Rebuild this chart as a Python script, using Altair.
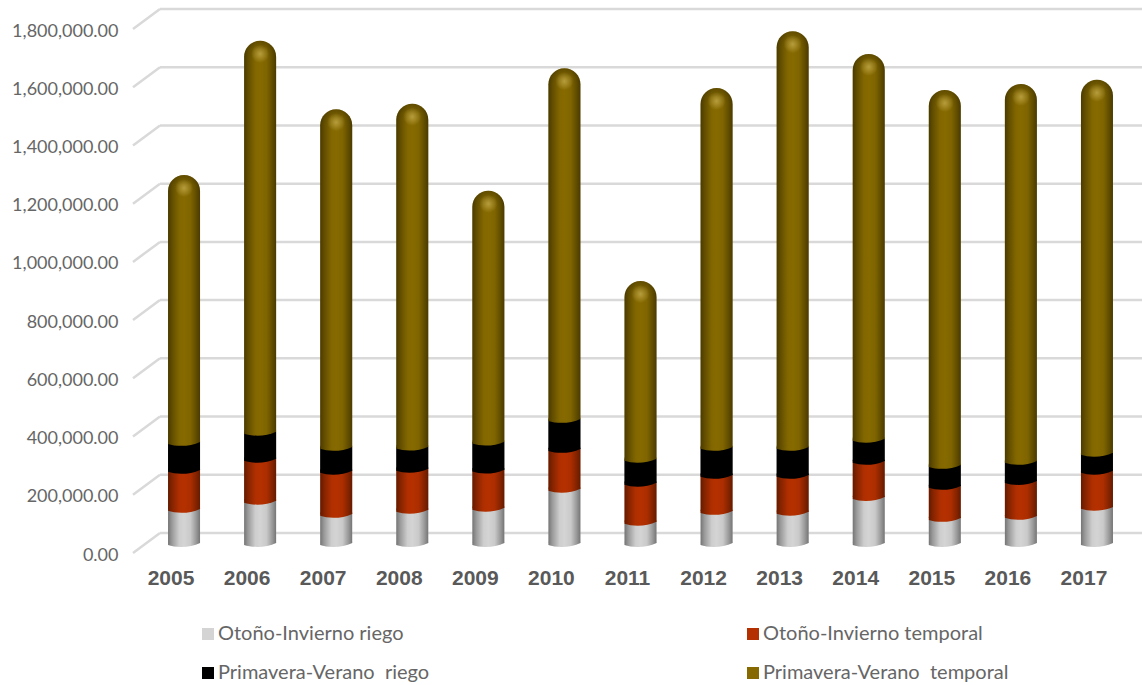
import altair as alt
import pandas as pd

years = ["2005", "2006", "2007", "2008", "2009", "2010", "2011", "2012", "2013", "2014", "2015", "2016", "2017"]
oi_riego = [117000, 145000, 100000, 114000, 121000, 186000, 73000, 110000, 107000, 158000, 86000, 93000, 124000]
oi_temporal = [134000, 144000, 148000, 141000, 131000, 137000, 134000, 124000, 127000, 124000, 110000, 120000, 124000]
pv_riego = [96000, 93000, 82000, 76000, 96000, 103000, 82000, 96000, 96000, 76000, 72000, 69000, 62000]
pv_temporal = [917000, 1343000, 1160000, 1178000, 862000, 1205000, 611000, 1233000, 1428000, 1322000, 1288000, 1295000, 1281000]

series_names = ["Otoño-Invierno riego", "Otoño-Invierno temporal", "Primavera-Verano\u00a0 riego", "Primavera-Verano\u00a0 temporal"]
series_values = [oi_riego, oi_temporal, pv_riego, pv_temporal]
series_colors = ["#d4d4d4", "#b53000", "#000000", "#866a00"]
grid_values = [0, 200000, 400000, 600000, 800000, 1000000, 1200000, 1400000, 1600000, 1800000]

TEXT = "#595959"
SOFT_TEXT = "#666666"
GRID = "#d9d9d9"
BAR_W = 32
SYMBOL = BAR_W ** 2

# Segment table with explicit start and end of every stacked piece
rows = []
for i, year in enumerate(years):
    base = 0
    for name, vals in zip(series_names, series_values):
        rows.append({"year": year, "series": name, "start": base, "end": base + vals[i]})
        base += vals[i]
segments = pd.DataFrame(rows)
totals = segments.groupby("year", as_index=False)["end"].max().rename(columns={"end": "total"})
grid = pd.DataFrame({"value": grid_values})

x = alt.X("year:N", title=None, scale=alt.Scale(paddingInner=0, paddingOuter=0),
          axis=alt.Axis(labelAngle=0, labelFont="Liberation Sans", labelFontSize=21, labelFontWeight="bold",
                        labelColor=TEXT, labelPadding=24, labelOffset=-13, domain=False, ticks=False, grid=False))
y_scale = alt.Scale(domain=[0, 1800000], nice=False)
y_axis = alt.Axis(format=",.2f", values=grid_values, labelFont="Lato", labelFontSize=18,
                  labelColor=SOFT_TEXT, labelPadding=28, labelOffset=12, domain=False, ticks=False, grid=False)
color_scale = alt.Scale(domain=series_names, range=series_colors)
color = alt.Color("series:N", scale=color_scale, sort=series_names, title=None,
                  legend=alt.Legend(orient="none", legendX=52, legendY=605, columns=2, direction="horizontal",
                                    columnPadding=279, rowPadding=19, symbolType="square", symbolSize=144,
                                    symbolStrokeWidth=0, labelFont="Lato", labelFontSize=20,
                                    labelColor=SOFT_TEXT, labelOffset=0, labelLimit=400, gridAlign="all"))
color_plain = alt.Color("series:N", scale=color_scale, sort=series_names, legend=None)

# Back wall lines and the slanted floor ticks that lead to the labels
back_lines = alt.Chart(grid).mark_rule(color=GRID, strokeWidth=2.5, yOffset=-10, y2Offset=-10).encode(
    x=alt.value(14), x2=alt.value(996),
    y=alt.Y("value:Q", scale=y_scale, axis=y_axis, title=None), y2="value:Q")
side_lines = alt.Chart(grid).mark_rule(color=GRID, strokeWidth=2.5, yOffset=10, y2Offset=-10).encode(
    x=alt.value(-13), x2=alt.value(14),
    y=alt.Y("value:Q", scale=y_scale), y2="value:Q")

lower = alt.Chart(segments).transform_filter(alt.datum.series != series_names[3]).mark_bar(width=BAR_W).encode(
    x=x, y=alt.Y("start:Q", scale=y_scale), y2="end:Q", color=color)
upper = alt.Chart(segments).transform_filter(alt.datum.series == series_names[3]).mark_bar(
    width=BAR_W, cornerRadiusTopLeft=16, cornerRadiusTopRight=16).encode(
    x=x, y=alt.Y("start:Q", scale=y_scale), y2="end:Q", color=color_plain)

# Curved lower edge of each ring of the cylinder; the ring version laps over its seam
BASE_EDGE = "M-1,0 L-1,0.12 C-0.5,0.3 0.4,0.3 1,0 Z"
RING_EDGE = "M-1,-0.08 L-1,0.12 C-0.5,0.3 0.4,0.3 1,0 L1,-0.08 Z"
lens = alt.Chart(segments).mark_point(shape=RING_EDGE, size=SYMBOL, filled=True, opacity=1, strokeWidth=0).encode(
    x=x, y=alt.Y("start:Q", scale=y_scale), color=color_plain)

sheen_fill = {"gradient": "linear", "x1": 0, "y1": 0, "x2": 1, "y2": 0, "stops": [
    {"offset": 0, "color": "rgba(0,0,0,0.45)"},
    {"offset": 0.12, "color": "rgba(0,0,0,0.28)"},
    {"offset": 0.35, "color": "rgba(0,0,0,0.03)"},
    {"offset": 0.5, "color": "rgba(0,0,0,0)"},
    {"offset": 0.7, "color": "rgba(0,0,0,0.05)"},
    {"offset": 0.88, "color": "rgba(0,0,0,0.28)"},
    {"offset": 1, "color": "rgba(0,0,0,0.45)"}]}
sheen = alt.Chart(totals).mark_bar(width=BAR_W, fill=sheen_fill, cornerRadiusTopLeft=16, cornerRadiusTopRight=16).encode(
    x=x, y=alt.Y("total:Q", scale=y_scale), y2=alt.datum(0))
base_sheen = alt.Chart(totals).mark_point(shape=BASE_EDGE, size=SYMBOL, filled=True, opacity=1, strokeWidth=0,
                                          fill=sheen_fill).encode(x=x, y=alt.datum(0, scale=y_scale))

# Dome at the top of every cylinder: darker rim plus a soft highlight
dome_fill = {"gradient": "linear", "x1": 0, "y1": 0, "x2": 0, "y2": 1, "stops": [
    {"offset": 0, "color": "rgba(0,0,0,0.28)"},
    {"offset": 0.6, "color": "rgba(0,0,0,0.04)"},
    {"offset": 1, "color": "rgba(0,0,0,0)"}]}
dome = alt.Chart(totals).mark_point(shape="M-1,0 A1,1 0 0 1 1,0 Z", size=SYMBOL, filled=True, opacity=1, strokeWidth=0,
                                    yOffset=16, fill=dome_fill).encode(x=x, y=alt.Y("total:Q", scale=y_scale))
glow_fill = {"gradient": "radial", "x1": 0.5, "y1": 0.5, "x2": 0.5, "y2": 0.5, "r1": 0, "r2": 0.5, "stops": [
    {"offset": 0, "color": "rgba(225,200,110,0.55)"},
    {"offset": 1, "color": "rgba(225,200,110,0)"}]}
glow = alt.Chart(totals).mark_point(shape="circle", size=330, filled=True, opacity=1, strokeWidth=0,
                                    yOffset=13, fill=glow_fill).encode(x=x, y=alt.Y("total:Q", scale=y_scale))

chart = alt.layer(back_lines, side_lines, lower, upper, lens, sheen, base_sheen, dome, glow).properties(
    width=989, height=524, background="white",
    padding={"left": 146, "top": 19, "right": 7, "bottom": 142},
    autosize=alt.AutoSizeParams(type="none"),
).configure_view(stroke=None)

chart.save("out.html", embed_options={"renderer": "svg", "actions": False})
